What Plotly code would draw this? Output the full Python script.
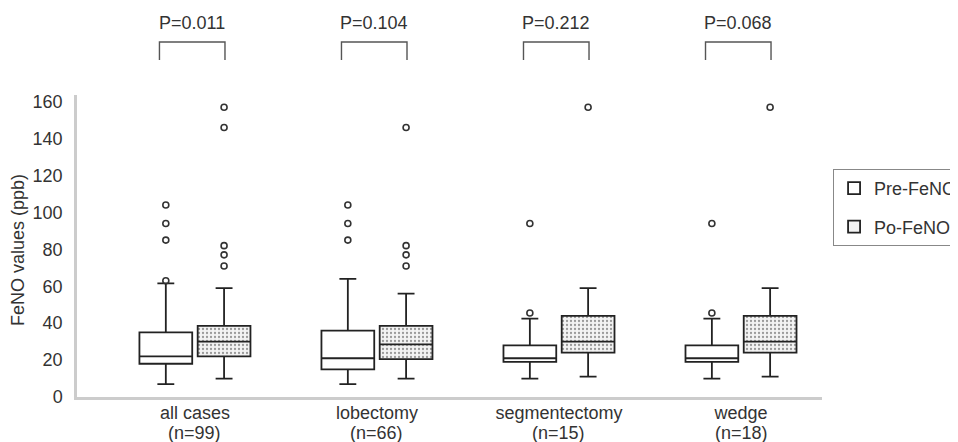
import plotly.graph_objects as go

# ---- data ----
categories = ["all cases", "lobectomy", "segmentectomy", "wedge"]
n_cases = [99, 66, 15, 18]
p_values = ["P=0.011", "P=0.104", "P=0.212", "P=0.068"]

pre_low = [7, 7, 10, 10]
pre_q1 = [18, 15, 19, 19]
pre_med = [22, 21, 21, 21]
pre_q3 = [35, 36, 28, 28]
pre_high = [61.5, 64, 42.5, 42.5]
pre_outliers = [[63, 85, 94, 104], [85, 94, 104], [45.5, 94], [45.5, 94]]

po_low = [10, 10, 11, 11]
po_q1 = [22, 20.5, 24, 24]
po_med = [30, 28.5, 30, 30]
po_q3 = [38.5, 38.5, 44, 44]
po_high = [59, 56, 59, 59]
po_outliers = [[71, 77, 82, 146, 157], [71, 77, 82, 146], [157], [157]]

n_labels = [f"(n={n})" for n in n_cases]

# ---- styling constants ----
FONT = "Liberation Sans, Arial, sans-serif"
TXT = "#333333"
LINE = "#222222"
OFF = 0.16      # half distance between paired boxes (category units)
BW = 0.29       # box width (category units)

idx = list(range(len(categories)))
x_pre = [i - OFF for i in idx]
x_po = [i + OFF for i in idx]

fig = go.Figure()

# dotted fill for the Po-FeNO boxes
fig.add_trace(go.Bar(
    x=x_po, y=[b - a for a, b in zip(po_q1, po_q3)], base=po_q1, width=BW,
    marker=dict(color="white", line=dict(width=0),
                pattern=dict(shape=".", size=4, solidity=0.25,
                             fgcolor="#999999", bgcolor="white", fillmode="replace")),
    showlegend=False, hoverinfo="skip"))

fig.add_trace(go.Box(
    name="Pre-FeNO", x=x_pre, q1=pre_q1, median=pre_med, q3=pre_q3,
    lowerfence=pre_low, upperfence=pre_high, width=BW, whiskerwidth=0.32,
    fillcolor="rgba(255,255,255,0)", line=dict(color=LINE, width=1.8),
    legendgroup="pre", boxpoints=False))

fig.add_trace(go.Box(
    name="Po-FeNO", x=x_po, q1=po_q1, median=po_med, q3=po_q3,
    lowerfence=po_low, upperfence=po_high, width=BW, whiskerwidth=0.32,
    fillcolor="rgba(160,160,160,0.12)", line=dict(color=LINE, width=1.8),
    legendgroup="po", boxpoints=False))

# outliers
ox, oy = [], []
for i, vals in enumerate(pre_outliers):
    ox += [x_pre[i]] * len(vals)
    oy += vals
for i, vals in enumerate(po_outliers):
    ox += [x_po[i]] * len(vals)
    oy += vals
fig.add_trace(go.Scatter(
    x=ox, y=oy, mode="markers", showlegend=False, hoverinfo="skip",
    marker=dict(symbol="circle-open", size=6, color="#333333", line=dict(width=1.6))))

# P-value brackets and labels
for i, p in enumerate(p_values):
    x0, x1 = i - 0.195, i + 0.165
    fig.add_shape(type="path", xref="x", yref="paper",
                  path=f"M {x0} 1.116 L {x0} 1.1755 L {x1} 1.1755 L {x1} 1.116",
                  line=dict(color="#555555", width=1.4))
    fig.add_annotation(x=i - 0.015, y=1.238, xref="x", yref="paper", text=p,
                       showarrow=False, yanchor="middle",
                       font=dict(family=FONT, size=18, color=TXT))

# second line of the category labels: group sizes
for i, t in enumerate(n_labels):
    fig.add_annotation(x=i, y=-0.119, xref="x", yref="paper", text=t,
                       showarrow=False, yanchor="middle",
                       font=dict(family=FONT, size=18, color=TXT))

# y-axis title
fig.add_annotation(x=-0.079, y=0.487, xref="paper", yref="paper",
                   text="FeNO values (ppb)", textangle=-90, showarrow=False,
                   xanchor="center", yanchor="middle",
                   font=dict(family=FONT, size=18, color=TXT))

# the page body adds an 8px offset, so the figure is 950x434 and shifted margins
fig.update_layout(
    width=950, height=434,
    margin=dict(l=69, r=136, t=87, b=45),
    plot_bgcolor="white", paper_bgcolor="white",
    font=dict(family=FONT, size=18, color=TXT),
    barmode="overlay",
    legend=dict(xref="container", yref="container", x=0.8685, y=0.629,
                xanchor="left", yanchor="top",
                bordercolor="#888888", borderwidth=1, tracegroupgap=12,
                font=dict(family=FONT, size=18, color=TXT), bgcolor="white"),
    xaxis=dict(range=[-0.648, 3.445], tickvals=idx, ticktext=categories,
               showgrid=False, zeroline=False, showline=True, automargin=False,
               linecolor="#cccccc", linewidth=2.5, ticks="",
               ticklabelstandoff=-2),
    yaxis=dict(range=[0, 163.6], tickvals=list(range(0, 161, 20)),
               showgrid=False, zeroline=False, showline=True, automargin=False,
               linecolor="#cccccc", linewidth=2.5, ticks="",
               ticklabelstandoff=8),
)

fig.write_html("out.html")
